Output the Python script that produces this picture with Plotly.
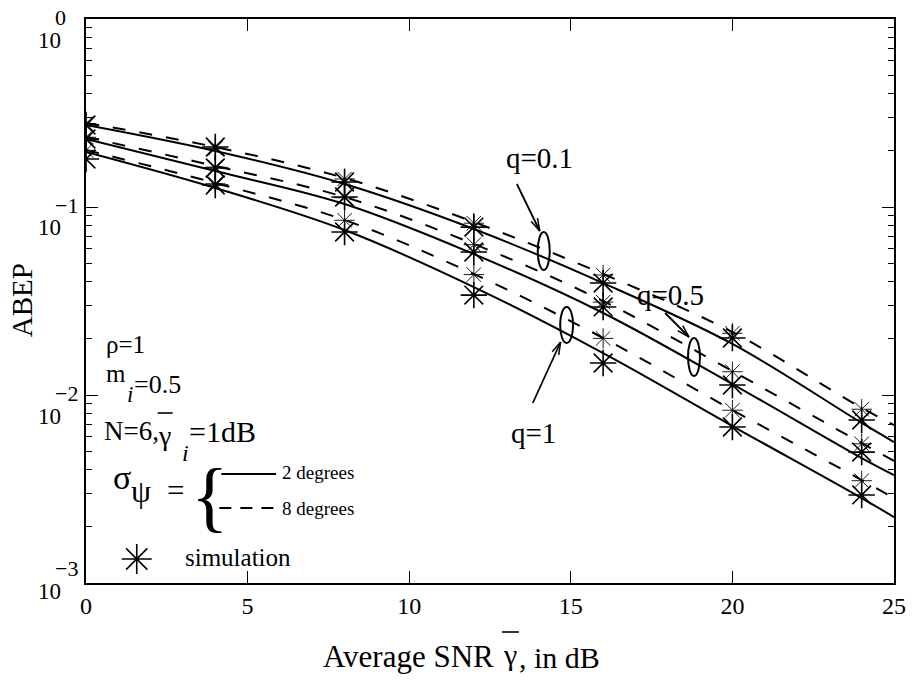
import math
import plotly.graph_objects as go

# ---- ABEP versus average SNR (theory curves) ----
snr_curve = [0, 4, 8, 12, 16, 20, 24, 25]
abep_q01_2deg = [0.273, 0.1985, 0.1325, 0.0764, 0.0394, 0.0187, 0.0071, 0.00562]
abep_q05_2deg = [0.230, 0.1554, 0.1037, 0.0562, 0.0273, 0.01144, 0.00462, 0.00375]
abep_q1_2deg = [0.1961, 0.1262, 0.0754, 0.0375, 0.0167, 0.00684, 0.00283, 0.00224]
abep_q01_8deg = [0.280, 0.2085, 0.1427, 0.0832, 0.0440, 0.0216, 0.00853, 0.00692]
abep_q05_8deg = [0.2357, 0.1652, 0.1130, 0.0636, 0.0316, 0.0134, 0.00555, 0.00446]
abep_q1_8deg = [0.2010, 0.1341, 0.0853, 0.0440, 0.0201, 0.00832, 0.00353, 0.00283]

# ---- simulation points ----
snr_sim = [0, 4, 8, 12, 16, 20, 24]
sim_q01_2deg = [0.273, 0.2085, 0.1358, 0.0782, 0.0394, 0.0201, 0.00736]
sim_q05_2deg = [0.230, 0.1612, 0.1130, 0.0576, 0.0294, 0.0113, 0.00497]
sim_q1_2deg = [0.180, 0.1309, 0.0736, 0.0340, 0.0148, 0.00676, 0.00294]
sim_q01_8deg = [0.278, 0.205, 0.141, 0.082, 0.0435, 0.0213, 0.0084]
sim_q05_8deg = [0.235, 0.163, 0.112, 0.0630, 0.0312, 0.0133, 0.0055]
sim_q1_8deg = [0.200, 0.133, 0.085, 0.0437, 0.0200, 0.0083, 0.0035]

x_ticks = [0, 5, 10, 15, 20, 25]
y_decades = [0, -1, -2, -3]
y_exp_labels = ["0", "\u22121", "\u22122", "\u22123"]

# ---- page geometry (pixels) ----
W, H = 918, 681
L, R, T, B = 86, 898, 19, 583
SERIF = "Liberation Serif"
INK = "black"


def px(x):
    return (x - L) / (R - L)


def py(y):
    return (B - y) / (B - T)


fig = go.Figure()

solid = [abep_q01_2deg, abep_q05_2deg, abep_q1_2deg]
dashed = [abep_q01_8deg, abep_q05_8deg, abep_q1_8deg]
sim_solid = [sim_q01_2deg, sim_q05_2deg, sim_q1_2deg]
sim_dashed = [sim_q01_8deg, sim_q05_8deg, sim_q1_8deg]

for ys in dashed:
    fig.add_trace(go.Scatter(x=snr_curve, y=ys, mode="lines",
                             line=dict(color=INK, width=2, dash="13px,14px", shape="spline", smoothing=1.0),
                             showlegend=False, hoverinfo="skip"))
for ys in solid:
    fig.add_trace(go.Scatter(x=snr_curve, y=ys, mode="lines",
                             line=dict(color=INK, width=2, shape="spline", smoothing=1.0),
                             showlegend=False, hoverinfo="skip"))
for ys in sim_dashed:
    fig.add_trace(go.Scatter(x=snr_sim, y=ys, mode="markers",
                             marker=dict(symbol="asterisk-open", size=17, color=INK,
                                         line=dict(color=INK, width=0.9)),
                             showlegend=False, hoverinfo="skip"))
for ys in sim_solid:
    fig.add_trace(go.Scatter(x=snr_sim, y=ys, mode="markers",
                             marker=dict(symbol="asterisk-open", size=22, color=INK,
                                         line=dict(color=INK, width=1.6)),
                             showlegend=False, hoverinfo="skip"))

# legend glyph for the simulation marker, on a hidden unit axis pair
fig.add_trace(go.Scatter(x=[px(137)], y=[py(559)], xaxis="x2", yaxis="y2", mode="markers",
                         marker=dict(symbol="asterisk-open", size=25, color=INK,
                                     line=dict(color=INK, width=1.6)),
                         showlegend=False, hoverinfo="skip", cliponaxis=False))

axis_common = dict(showline=True, linecolor=INK, linewidth=1.5, mirror="allticks",
                   ticks="inside", ticklen=12, tickwidth=1.2, tickcolor=INK,
                   showgrid=False, zeroline=False)

fig.update_layout(
    width=W, height=H, autosize=False,
    margin=dict(l=L, r=W - R, t=T, b=H - B, pad=0),
    paper_bgcolor="white", plot_bgcolor="white",
    showlegend=False,
    xaxis=dict(range=[0, 25], tickvals=x_ticks, ticktext=[str(v) for v in x_ticks],
               tickfont=dict(family=SERIF, size=24, color=INK), **axis_common),
    yaxis=dict(type="log", range=[-3, 0], dtick=1, showticklabels=False,
               minor=dict(ticks="inside", ticklen=6, tickwidth=1.1, tickcolor=INK, dtick="D1", showgrid=False),
               **axis_common),
    xaxis2=dict(overlaying="x", range=[0, 1], visible=False),
    yaxis2=dict(overlaying="y", range=[0, 1], visible=False),
)

ann = []


def text(x, y, s, size=24, xa="center", ya="middle", italic=False, angle=0):
    font = dict(family=SERIF, size=size, color=INK)
    if italic:
        font["style"] = "italic"
    ann.append(dict(x=px(x), y=py(y), xref="paper", yref="paper", text=s, showarrow=False,
                    xanchor=xa, yanchor=ya, textangle=angle, font=font))


# y tick labels drawn as "10" with a raised exponent
for d, e in zip(y_decades, y_exp_labels):
    tick_y = T + (0 - d) * (B - T) / 3.0
    exp_y = tick_y - 2 if d > -3 else tick_y - 15
    text(63, exp_y + 23, "10", size=23, xa="right")
    text(53, exp_y, e, size=22, xa="left")

# axis titles
text(22, 300, "ABEP", size=29, angle=-90)
text(498, 656, "Average SNR", size=31, xa="right")
text(512, 654, "\u03b3", size=30)
text(519, 657, ", in dB", size=30, xa="left")

# curve family labels
text(542, 158, "q=0.1", size=29)
text(673, 295, "q=0.5", size=29)
text(536, 433, "q=1", size=29)

# parameter block
text(104, 344, "\u03c1=1", size=25, xa="left")
text(104, 373, "m", size=25, xa="left")
text(125, 394, "i", size=23, xa="left", italic=True)
text(132, 384, "=0.5", size=26, xa="left")
text(102, 431, "N=6,", size=27, xa="left")
text(165, 436, "\u03b3", size=28)
text(180, 453, "i", size=24, xa="left", italic=True)
text(188, 431, "=1dB", size=30, xa="left")
text(122, 477, "\u03c3", size=34)
text(141, 491, "\u03c8", size=32)
text(176, 490, "=", size=31)
text(210, 497, "{", size=78)
text(281, 472, "2 degrees", size=19, xa="left")
text(281, 508, "8 degrees", size=19, xa="left")
text(183, 557, "simulation", size=25, xa="left")

shapes = []


def seg(x0, y0, x1, y1, width=1.8, dash="solid"):
    shapes.append(dict(type="line", xref="paper", yref="paper",
                       x0=px(x0), y0=py(y0), x1=px(x1), y1=py(y1),
                       line=dict(color=INK, width=width, dash=dash)))


def arrow(x0, y0, x1, y1, head=13, spread=0.28):
    seg(x0, y0, x1, y1, width=1.8)
    ang = math.atan2(y1 - y0, x1 - x0)
    for s in (spread, -spread):
        a = ang + math.pi + s
        seg(x1, y1, x1 + head * math.cos(a), y1 + head * math.sin(a), width=1.5)


def ellipse(cx, cy, w, h):
    shapes.append(dict(type="circle", xref="paper", yref="paper",
                       x0=px(cx - w / 2), x1=px(cx + w / 2), y0=py(cy + h / 2), y1=py(cy - h / 2),
                       line=dict(color=INK, width=2)))


# overbars on the averaged SNR symbols
seg(504, 632, 521, 632, width=1.6)
seg(158, 413, 173, 413, width=1.6)

ellipse(546, 251, 12, 38)
ellipse(697, 357, 12, 38)
ellipse(569, 325, 13, 36)
arrow(519, 184, 542, 231)
arrow(668, 313, 692, 337)
arrow(535, 403, 563, 342)

# line-style key
seg(222, 474, 277, 474, width=2)
seg(220, 508, 277, 508, width=2, dash="12px,9px")

fig.update_layout(annotations=ann, shapes=shapes)
fig.write_html("out.html")
